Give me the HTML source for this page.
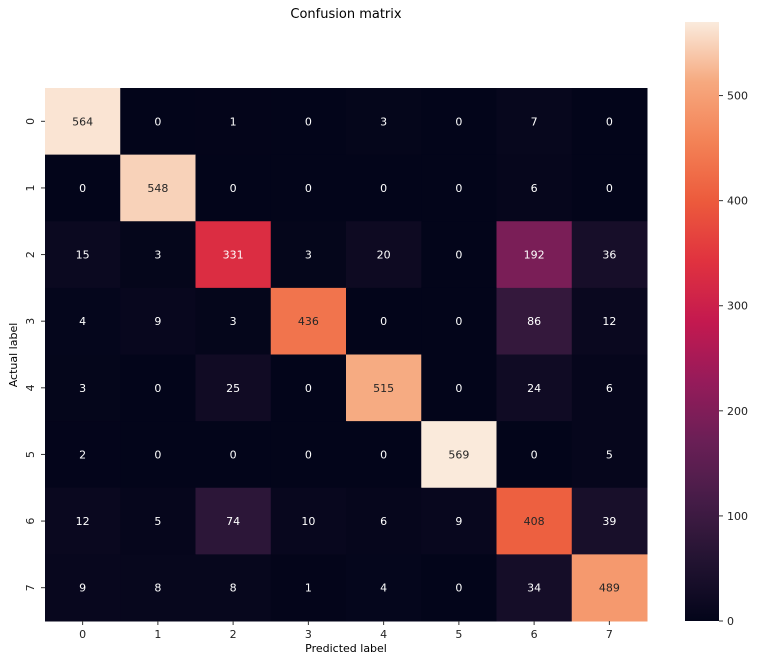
<!DOCTYPE html>
<html><head><meta charset="utf-8"><style>
body{margin:0;background:#fff;}
svg text{font-family:"DejaVu Sans","Liberation Sans",sans-serif;}
</style></head><body>
<svg id="chart" width="758" height="660" viewBox="0 0 758 660" xmlns="http://www.w3.org/2000/svg">
<defs><linearGradient id="cbg" x1="0" y1="1" x2="0" y2="0"></linearGradient></defs>
<text x="346" y="18" font-size="13" text-anchor="middle">Confusion matrix</text>
<g id="cells"></g>
<g id="xaxis"></g>
<g id="yaxis"></g>
<text x="346" y="652" font-size="11" text-anchor="middle">Predicted label</text>
<text transform="translate(17,355) rotate(-90)" font-size="11" text-anchor="middle">Actual label</text>
<rect x="685" y="22" width="34" height="599" fill="url(#cbg)"/>
<g id="cbticks"></g>
</svg>
<script>
const xLabels=["0","1","2","3","4","5","6","7"];
const yLabels=["0","1","2","3","4","5","6","7"];
const row0=[564,0,1,0,3,0,7,0];
const row1=[0,548,0,0,0,0,6,0];
const row2=[15,3,331,3,20,0,192,36];
const row3=[4,9,3,436,0,0,86,12];
const row4=[3,0,25,0,515,0,24,6];
const row5=[2,0,0,0,0,569,0,5];
const row6=[12,5,74,10,6,9,408,39];
const row7=[9,8,8,1,4,0,34,489];
const cbTicks=[0,100,200,300,400,500];
const vmin=0, vmax=570;
const matrix=[row0,row1,row2,row3,row4,row5,row6,row7];
const stops=[[0,"#03051A"],[0.1,"#221331"],[0.2,"#451C47"],[0.3,"#6A1F56"],[0.4,"#961B5A"],[0.5,"#C4194F"],[0.6,"#E0323F"],[0.7,"#EC5A3C"],[0.8,"#F38256"],[0.9,"#F6A97F"],[1,"#FAEBDD"]];
function hex(h){return [1,3,5].map(i=>parseInt(h.substr(i,2),16));}
function cmap(t){t=Math.max(0,Math.min(1,t));for(let i=1;i<stops.length;i++){if(t<=stops[i][0]){const a=stops[i-1],b=stops[i];const f=(t-a[0])/(b[0]-a[0]);const ca=hex(a[1]),cb=hex(b[1]);return ca.map((v,k)=>Math.round(v+(cb[k]-v)*f));}}return hex(stops[stops.length-1][1]);}
const X0=45,X1=647,Y0=88,Y1=621;
const cw=(X1-X0)/xLabels.length, ch=(Y1-Y0)/yLabels.length;
const xs=i=>X0+i*cw, ys=j=>Y0+j*ch;
const cbY=v=>621-(v-vmin)/(vmax-vmin)*599;
const NS="http://www.w3.org/2000/svg";
function mk(tag,attrs,parent){const e=document.createElementNS(NS,tag);for(const k in attrs)e.setAttribute(k,attrs[k]);parent.appendChild(e);return e;}
const cells=document.getElementById('cells');
matrix.forEach((row,j)=>row.forEach((v,i)=>{
 const c=cmap((v-vmin)/(vmax-vmin));
 const r=mk('rect',{x:xs(i),y:ys(j),width:cw+0.5,height:ch+0.5,fill:`rgb(${c})`},cells);
 
 
 const lum=(0.2126*c[0]+0.7152*c[1]+0.0722*c[2])/255;
 const t=mk('text',{x:xs(i)+cw/2,y:ys(j)+ch/2+4,'font-size':'11','text-anchor':'middle',fill:lum>0.408?'#262626':'#ffffff'},cells);
 t.textContent=v;
 
 
}));
const xa=document.getElementById('xaxis');
xLabels.forEach((l,i)=>{
 const cx=xs(i)+cw/2;
 const tk=mk('line',{x1:cx,x2:cx,y1:Y1,y2:Y1+4,stroke:'#333','stroke-width':1},xa);
 
 
 const t=mk('text',{x:cx,y:Y1+17,'font-size':'11','text-anchor':'middle',fill:'#222'},xa);
 t.textContent=l;
 
 
});
const ya=document.getElementById('yaxis');
yLabels.forEach((l,j)=>{
 const cy=ys(j)+ch/2;
 const tk=mk('line',{x1:X0-4,x2:X0,y1:cy,y2:cy,stroke:'#333','stroke-width':1},ya);
 
 
 const t=mk('text',{transform:`translate(${X0-11},${cy}) rotate(-90)`,'font-size':'11','text-anchor':'middle',fill:'#222'},ya);
 t.textContent=l;
 
 
});
const g=document.getElementById('cbg');
for(let k=0;k<=20;k++){const c=cmap(k/20);mk('stop',{offset:(k/20),'stop-color':`rgb(${c})`},g);}
const cbt=document.getElementById('cbticks');
cbTicks.forEach(v=>{
 const y=cbY(v);
 const tk=mk('line',{x1:719,x2:723,y1:y,y2:y,stroke:'#333','stroke-width':1},cbt);
 
 
 const t=mk('text',{x:727,y:y+4,'font-size':'11',fill:'#222'},cbt);
 t.textContent=v;
 
 
});
</script>
</body></html>
